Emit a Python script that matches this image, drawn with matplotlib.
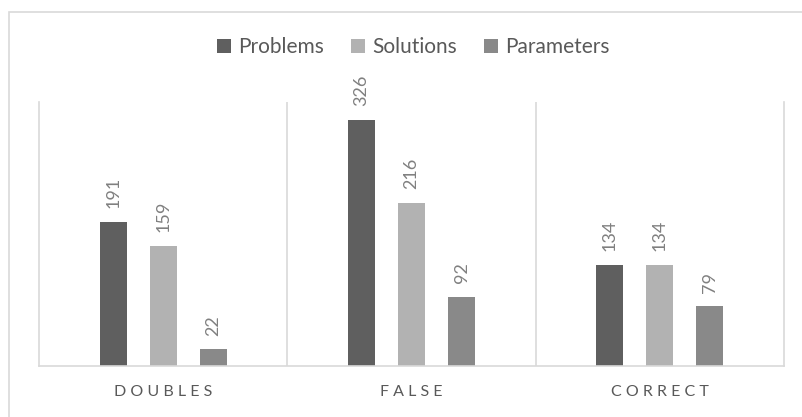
import numpy as np
import matplotlib.pyplot as plt
from matplotlib.patches import Rectangle

categories = ['DOUBLES', 'FALSE', 'CORRECT']
series = ['Problems', 'Solutions', 'Parameters']
problems = [191, 326, 134]
solutions = [159, 216, 134]
parameters = [22, 92, 79]
colors = ['#5f5f5f', '#b2b2b2', '#898989']

plt.rcParams['font.family'] = ['Lato', 'DejaVu Sans']

fig = plt.figure(figsize=(8.03, 4.17), dpi=100)
ax = fig.add_axes([39 / 803, 1 - 366 / 417, 745 / 803, 264 / 417])

# outer frame (right and bottom edges run off the image)
fig.patches.append(Rectangle((9 / 803, -0.05), 1.0, 1 - 12 / 417 + 0.05, transform=fig.transFigure,
                             fill=False, edgecolor='#d9d9d9', linewidth=1.2))

x = np.arange(len(categories))
width = 0.109
for i, (vals, name) in enumerate(zip([problems, solutions, parameters], series)):
    bars = ax.bar(x + (i - 1) * 0.2016, vals, width, color=colors[i], label=name)
    for b, v in zip(bars, vals):
        ax.annotate(str(v), (b.get_x() + b.get_width() / 2, v), xytext=(0, 10),
                    textcoords='offset points', rotation=90, ha='center', va='bottom',
                    fontsize=13, color='#808080')

ax.set_xlim(-0.5, 2.5)
ax.set_ylim(0, 350)
ax.set_yticks([])
ax.set_xticks(x)
ax.set_xticklabels([' '.join(c) for c in categories], fontsize=11.5, color='#595959')
ax.tick_params(axis='x', length=0, pad=14)

ax.spines['top'].set_visible(False)
for s in ['left', 'right', 'bottom']:
    ax.spines[s].set_color('#d9d9d9')
    ax.spines[s].set_linewidth(1.2)
for sep in [0.5, 1.5]:
    ax.axvline(sep, color='#d9d9d9', linewidth=1.2)

fig.legend(loc='center', bbox_to_anchor=(413.5 / 803, 1 - 47 / 417), ncol=3, frameon=False,
           fontsize=15, handlelength=0.67, handleheight=0.67, handletextpad=0.34,
           columnspacing=1.3, labelcolor='#595959')

fig.savefig('out.png', dpi=100)
